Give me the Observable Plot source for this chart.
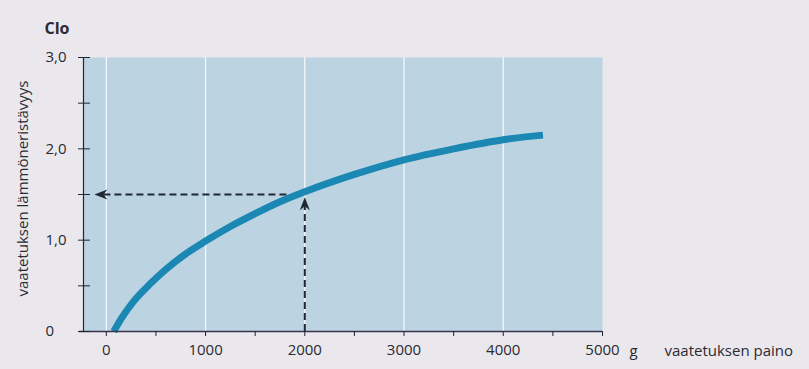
<!DOCTYPE html>
<html>
<head>
<meta charset="utf-8">
<script src="https://cdn.jsdelivr.net/npm/d3@7"></script>
<script src="https://cdn.jsdelivr.net/npm/@observablehq/plot@0.6"></script>
<style>
  html, body { margin: 0; padding: 0; background: #ebe8ed; }
  #chart { width: 809px; height: 369px; }
  svg { font-family: "Open Sans", "Noto Sans", sans-serif; }
</style>
</head>
<body>
<div id="chart"></div>
<script>
// Data
const weight = [75, 150, 275, 450, 600, 800, 1000, 1250, 1500, 1750, 2000, 2500, 3000, 3500, 4000, 4400]; // g
const clo    = [0, 0.14, 0.33, 0.53, 0.68, 0.85, 0.99, 1.15, 1.29, 1.42, 1.53, 1.72, 1.88, 2.00, 2.10, 2.15];
const xTicks = [0, 500, 1000, 1500, 2000, 2500, 3000, 3500, 4000, 4500, 5000];
const xLabelTicks = [0, 1000, 2000, 3000, 4000, 5000];
const xGrid = [0, 1000, 2000, 3000, 4000];
const yTicks = [0, 0.5, 1, 1.5, 2, 2.5, 3];
const yLabelTicks = [0, 1, 2, 3];
const readWeight = 2000;     // example reading
const readClo = 1.5;
const hLineFrom = 1820;      // horizontal dashed line start (at curve)
const hArrowTip = -120;
const vArrowTip = 1.47;
const yTitle = "vaatetuksen lämmöneristävyys";
const yUnit = "Clo";
const xUnit = "g";
const xTitle = "vaatetuksen paino";

const curve = weight.map((w, i) => ({w, c: clo[i]}));
const textColor = "#2a2a33";
const lineColor = "#1f2733";

const arrowLeft = {draw(ctx) { ctx.moveTo(0, 0); ctx.lineTo(13, -5); ctx.lineTo(9, 0); ctx.lineTo(13, 5); ctx.closePath(); }};
const arrowUp = {draw(ctx) { ctx.moveTo(0, 0); ctx.lineTo(-5, 13); ctx.lineTo(0, 9); ctx.lineTo(5, 13); ctx.closePath(); }};

const chart = Plot.plot({
  width: 809,
  height: 369,
  marginLeft: 83,
  marginRight: 207,
  marginTop: 57,
  marginBottom: 38,
  style: {background: "transparent", fontSize: "15px", color: textColor, overflow: "visible"},
  x: {domain: [-230, 5000]},
  y: {domain: [0, 3]},
  marks: [
    Plot.frame({fill: "#bcd4e2", stroke: null}),
    Plot.ruleX(xGrid, {stroke: "#f4f7fa", strokeWidth: 1.3}),
    // dashed reading lines
    Plot.ruleY([readClo], {x1: hLineFrom, x2: hArrowTip + 90, stroke: lineColor, strokeWidth: 2, strokeDasharray: "7,4"}),
    Plot.dot([{x: hArrowTip, y: readClo}], {x: "x", y: "y", symbol: arrowLeft, fill: lineColor, stroke: null}),
    Plot.ruleX([readWeight], {y1: 0, y2: vArrowTip - 0.1, stroke: lineColor, strokeWidth: 2, strokeDasharray: "7,4"}),
    Plot.dot([{x: readWeight, y: vArrowTip}], {x: "x", y: "y", symbol: arrowUp, fill: lineColor, stroke: null}),
    // curve
    Plot.line(curve, {x: "w", y: "c", curve: "monotone-x", stroke: "#1a88b3", strokeWidth: 7, strokeLinecap: "butt"}),
    // axes lines
    Plot.ruleX([-230], {y1: 0, y2: 3, stroke: lineColor, strokeWidth: 1.2}),
    Plot.ruleY([0], {x1: -270, x2: 5000, stroke: "#3a3350", strokeWidth: 1.5, clip: false}),
    Plot.axisY({ticks: yTicks, tickSize: 12, dx: 7, tickFormat: () => "", stroke: lineColor}),
    Plot.axisY({ticks: yLabelTicks, tickSize: 0, tickPadding: 38, textAnchor: "start",
      tickFormat: d => d === 0 ? "0" : d.toFixed(1).replace(".", ","), fill: textColor, fontSize: 15}),
    Plot.axisX({ticks: xTicks, tickSize: 5, tickPadding: 8, stroke: lineColor,
      tickFormat: d => xLabelTicks.includes(d) ? String(d) : "", fill: textColor, fontSize: 15}),
    // titles
    Plot.text([xUnit], {x: 5000, y: 0, dx: 27, dy: 20, textAnchor: "start", fill: textColor, fontSize: 15, clip: false}),
    Plot.text([xTitle], {x: 5000, y: 0, dx: 62, dy: 20, textAnchor: "start", fill: textColor, fontSize: 15, clip: false}),
    Plot.text([yTitle], {frameAnchor: "left", dx: -60, dy: -6, rotate: -90, textAnchor: "middle", fill: textColor, fontSize: 15}),
    Plot.text([yUnit], {frameAnchor: "top-left", dx: -39, dy: -35, textAnchor: "start", fill: textColor, fontSize: 16, fontWeight: "bold"})
  ]
});
document.getElementById("chart").appendChild(chart);
</script>
</body>
</html>
